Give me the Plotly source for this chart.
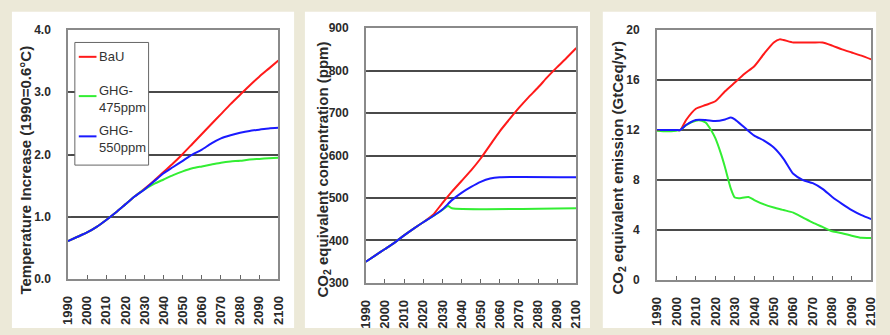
import plotly.graph_objects as go

W, H = 890, 335

# ---------------- Data ----------------
# Panel 1: temperature increase (deg C)
temp_years = [1990, 1995, 2000, 2005, 2010, 2015, 2020, 2025, 2030, 2035, 2040, 2045, 2050,
              2055, 2060, 2065, 2070, 2075, 2080, 2085, 2090, 2095, 2100]
temp_bau = [0.61, 0.68, 0.75, 0.84, 0.95, 1.07, 1.20, 1.33, 1.45, 1.58, 1.72, 1.86, 2.01,
            2.17, 2.33, 2.49, 2.65, 2.81, 2.96, 3.11, 3.25, 3.38, 3.51]
temp_475 = [0.61, 0.68, 0.75, 0.84, 0.95, 1.07, 1.20, 1.33, 1.44, 1.53, 1.60, 1.67, 1.73,
            1.78, 1.81, 1.84, 1.87, 1.89, 1.90, 1.92, 1.93, 1.94, 1.95]
temp_550 = [0.61, 0.68, 0.75, 0.84, 0.95, 1.07, 1.20, 1.33, 1.44, 1.57, 1.70, 1.80, 1.90,
            2.00, 2.08, 2.18, 2.26, 2.31, 2.35, 2.38, 2.40, 2.42, 2.43]

# Panel 2: CO2 equivalent concentration (ppm)
conc_years_bau = [1990, 1995, 2000, 2005, 2010, 2015, 2020, 2025, 2030, 2035, 2040, 2045,
                  2050, 2055, 2060, 2065, 2070, 2075, 2080, 2085, 2090, 2095, 2100]
conc_bau = [350, 365, 380, 395, 412, 428, 443, 460, 488, 515, 540, 565,
            593, 625, 657, 685, 712, 737, 760, 785, 808, 830, 853]
conc_years_475 = [1990, 1995, 2000, 2005, 2010, 2015, 2020, 2025, 2030, 2033, 2035, 2100]
conc_475 = [350, 365, 380, 395, 412, 428, 443, 457, 472, 481, 476, 476]
conc_years_550 = [1990, 1995, 2000, 2005, 2010, 2015, 2020, 2025, 2030, 2035, 2040, 2045,
                  2050, 2055, 2060, 2100]
conc_550 = [350, 365, 380, 395, 412, 428, 443, 457, 473, 495, 512, 526,
            538, 546, 549, 549]

# Panel 3: CO2 equivalent emission (GtCeq/yr)
emis_years_bau = [1990, 1995, 2000, 2002, 2005, 2010, 2015, 2020, 2025, 2030, 2035, 2040,
                  2045, 2050, 2053, 2055, 2060, 2065, 2070, 2075, 2080, 2085, 2090, 2095, 2100]
emis_bau = [12.0, 12.0, 12.0, 12.0, 12.8, 13.7, 14.0, 14.3, 15.1, 15.8, 16.5, 17.1,
            18.1, 19.0, 19.25, 19.2, 19.0, 19.0, 19.0, 19.0, 18.75, 18.45, 18.2, 17.95, 17.65]
emis_years_475 = [1990, 1995, 2000, 2002, 2005, 2010, 2013, 2015, 2018, 2020, 2023, 2025,
                  2028, 2030, 2032, 2037, 2040, 2045, 2050, 2055, 2060, 2065, 2070, 2075,
                  2080, 2085, 2090, 2095, 2100]
emis_475 = [11.95, 11.9, 11.95, 12.0, 12.4, 12.75, 12.75, 12.6, 11.95, 11.35, 10.05, 9.0,
            7.3, 6.6, 6.55, 6.65, 6.4, 6.05, 5.8, 5.6, 5.4, 5.0, 4.6, 4.25,
            3.9, 3.75, 3.55, 3.38, 3.37]
emis_years_550 = [1990, 1995, 2000, 2002, 2005, 2010, 2015, 2020, 2025, 2028, 2030, 2035,
                  2040, 2045, 2050, 2055, 2060, 2065, 2070, 2075, 2080, 2085, 2090, 2095, 2100]
emis_550 = [12.0, 12.0, 12.0, 12.0, 12.4, 12.8, 12.8, 12.72, 12.85, 13.0, 12.85, 12.2,
            11.55, 11.15, 10.6, 9.7, 8.5, 8.0, 7.75, 7.3, 6.65, 6.1, 5.6, 5.2, 4.88]

x_ticks = list(range(1990, 2101, 10))

series_names = ["BaU", "GHG-<br>475ppm", "GHG-<br>550ppm"]
series_colors = ["#ff1a1a", "#33ee33", "#1a1aff"]

y_titles = ["Temperature Increase (1990=0.6°C)",
            "CO<sub>2</sub> equivalent concentration (ppm)",
            "CO<sub>2</sub> equivalent emission (GtCeq/yr)"]

# ---------------- Layout helpers ----------------
def px_x(v):
    return v / W

def px_y(v):
    return 1 - v / H

BEIGE = "#ECE9D8"
TXT = "#2a2a2a"
FONT = "Liberation Sans"

fig = go.Figure()

panels = [
    (temp_years, temp_bau, temp_years, temp_475, temp_years, temp_550),
    (conc_years_bau, conc_bau, conc_years_475, conc_475, conc_years_550, conc_550),
    (emis_years_bau, emis_bau, emis_years_475, emis_475, emis_years_550, emis_550),
]
for i, p in enumerate(panels):
    xa = "x" if i == 0 else f"x{i+1}"
    ya = "y" if i == 0 else f"y{i+1}"
    for k in range(3):
        fig.add_trace(go.Scatter(
            x=p[2 * k], y=p[2 * k + 1], mode="lines",
            name=series_names[k].replace("<br>", ""),
            line=dict(color=series_colors[k], width=2, shape="spline", smoothing=0.6),
            showlegend=False, xaxis=xa, yaxis=ya, hoverinfo="skip"))

plot_boxes = [  # left, right, top, bottom in pixels
    (61, 275, 24, 284),
    (364, 578, 22, 288),
    (660, 878, 24, 285),
]
y_ranges = [(0, 4), (300, 900), (0, 20)]
y_dticks = [1, 100, 4]
y_fmt = [".1f", "d", "d"]

axis_common = dict(showline=True, linecolor="#8a8a8a", linewidth=1.5, mirror=True,
                   zeroline=False)
for i, (l, r, t, b) in enumerate(plot_boxes):
    sfx = "" if i == 0 else str(i + 1)
    fig.update_layout(**{
        f"xaxis{sfx}": dict(
            domain=[px_x(l), px_x(r)], range=[1990, 2100], anchor=f"y{sfx}",
            tickmode="array", tickvals=x_ticks, ticktext=[str(v) for v in x_ticks],
            tickangle=-90, ticks="inside", ticklen=4, tickcolor="#666", showgrid=False,
            tickfont=dict(family=FONT, size=13, color=TXT, weight="bold"),
            ticklabelstandoff=10, **axis_common),
        f"yaxis{sfx}": dict(
            domain=[px_y(b), px_y(t)], range=list(y_ranges[i]), anchor=f"x{sfx}",
            dtick=y_dticks[i], tick0=y_ranges[i][0], tickformat=y_fmt[i],
            ticks="inside", ticklen=3, tickcolor="#555",
            showgrid=True, gridcolor="#4a4a4a", gridwidth=1.5,
            tickfont=dict(family=FONT, size=12, color=TXT, weight="bold"),
            ticklabelstandoff=13, **axis_common),
    })

# panel backgrounds
panel_rects = [(4, 291), (302, 592), (605, 883)]
shapes = []
for (x0, x1) in panel_rects:
    shapes.append(dict(type="rect", xref="paper", yref="paper",
                       x0=px_x(x0), x1=px_x(x1), y0=0, y1=px_y(5),
                       fillcolor="white", line=dict(width=0), layer="below"))

# legend box (drawn manually to match the original's compact layout)
shapes.append(dict(type="rect", xref="paper", yref="paper",
                   x0=px_x(68), x1=px_x(143), y0=px_y(165), y1=px_y(37),
                   fillcolor="white", line=dict(color="#666", width=1), layer="above"))
legend_line_y = [52, 93, 135]
legend_text_y = [52, 95.5, 137.5]
annots = []
for k in range(3):
    shapes.append(dict(type="line", xref="paper", yref="paper",
                       x0=px_x(72), x1=px_x(90), y0=px_y(legend_line_y[k]),
                       y1=px_y(legend_line_y[k]),
                       line=dict(color=series_colors[k], width=2), layer="above"))
    annots.append(dict(text=series_names[k], xref="paper", yref="paper",
                       x=px_x(91), y=px_y(legend_text_y[k]), xanchor="left",
                       yanchor="middle", align="left", showarrow=False,
                       font=dict(family=FONT, size=13, color="#333")))
fig.update_layout(shapes=shapes)

# y axis titles as rotated annotations
title_pos = [(18, 170), (321, 170), (621, 168)]
for i, (tx, ty) in enumerate(title_pos):
    annots.append(dict(text=y_titles[i], xref="paper", yref="paper",
                       x=px_x(tx), y=px_y(ty), xanchor="center", yanchor="middle",
                       textangle=-90, showarrow=False,
                       font=dict(family=FONT, size=15, color=TXT, weight="bold")))
fig.update_layout(annotations=annots)

fig.update_layout(
    width=W, height=H, margin=dict(l=0, r=0, t=0, b=0),
    paper_bgcolor=BEIGE, plot_bgcolor="white",
    showlegend=False,
)

fig.write_html("out.html")
